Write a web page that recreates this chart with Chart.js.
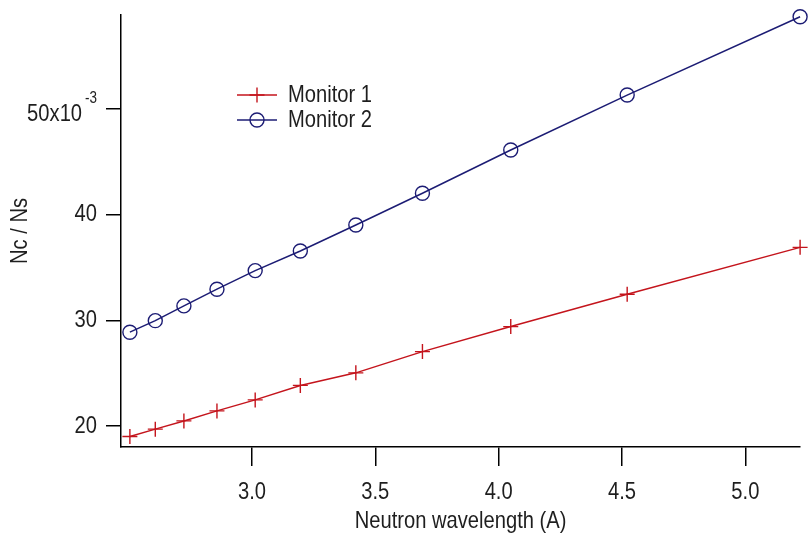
<!DOCTYPE html>
<html>
<head>
<meta charset="utf-8">
<script src="https://cdn.jsdelivr.net/npm/chart.js@4.4.1/dist/chart.umd.min.js"></script>
<style>
  html, body { margin: 0; padding: 0; background: #fff; }
  #wrap { width: 809px; height: 541px; }
</style>
</head>
<body>
<div id="wrap"><canvas id="c" width="809" height="541"></canvas></div>
<script>
// Neutron wavelength (A) for each measurement
const wavelength = [2.505, 2.608, 2.724, 2.858, 3.013, 3.196, 3.421, 3.691, 4.049, 4.521, 5.222];
// Nc / Ns ratios, in units of 10^-3
const monitor1 = [18.99, 19.69, 20.47, 21.42, 22.46, 23.83, 25.02, 27.03, 29.40, 32.46, 36.90];
const monitor2 = [28.87, 29.96, 31.36, 32.94, 34.70, 36.56, 39.02, 42.02, 46.12, 51.32, 58.73];
const seriesNames = ['Monitor 1', 'Monitor 2'];
const xTicks = [3.0, 3.5, 4.0, 4.5, 5.0];
const yTicks = [20, 30, 40, 50];
const expTick = 50;          // tick that carries the x10^-3 multiplier
const expBase = '50x10';
const expSup = '-3';

const FONT = "'Liberation Sans', Arial, sans-serif";
const FS = 24;
const NARROW = 0.84;         // horizontal squeeze giving a narrow face
const TEXT = '#1e1e1e';
const RED = '#c4141c';
const BLUE = '#1c1c74';
const Y_TICK_LEN = 15, Y_TICK_PAD = 9;

// Narrow text: every string on this canvas is drawn and measured squeezed horizontally
const canvas = document.getElementById('c');
const g = canvas.getContext('2d');
const rawFill = g.fillText.bind(g);
const rawMeasure = g.measureText.bind(g);
g.fillText = function (text, x, y, maxWidth) {
  this.save();
  this.translate(x, y);
  this.scale(NARROW, 1);
  if (maxWidth !== undefined && maxWidth !== null) rawFill(text, 0, 0, maxWidth / NARROW);
  else rawFill(text, 0, 0);
  this.restore();
};
g.measureText = function (text) {
  const m = rawMeasure(text);
  return {
    width: m.width * NARROW,
    actualBoundingBoxLeft: m.actualBoundingBoxLeft * NARROW,
    actualBoundingBoxRight: m.actualBoundingBoxRight * NARROW,
    actualBoundingBoxAscent: m.actualBoundingBoxAscent,
    actualBoundingBoxDescent: m.actualBoundingBoxDescent,
    fontBoundingBoxAscent: m.fontBoundingBoxAscent,
    fontBoundingBoxDescent: m.fontBoundingBoxDescent
  };
};

// Inset legend drawn inside the plot area
const insetLegend = {
  id: 'insetLegend',
  afterDraw(chart) {
    const ctx = chart.ctx;
    ctx.save();
    chart.data.datasets.forEach((ds, i) => {
      const y = 95 + i * 25;
      ctx.strokeStyle = ds.borderColor;
      ctx.lineWidth = ds.borderWidth;
      ctx.beginPath();
      ctx.moveTo(237, y); ctx.lineTo(277, y);
      ctx.stroke();
      const r = ds.pointRadius;
      ctx.lineWidth = ds.pointBorderWidth;
      ctx.beginPath();
      if (ds.pointStyle === 'cross') {
        ctx.moveTo(257, y - r); ctx.lineTo(257, y + r);
        ctx.moveTo(257 - r, y); ctx.lineTo(257 + r, y);
      } else {
        ctx.arc(257, y, r, 0, Math.PI * 2);
      }
      ctx.stroke();
      ctx.fillStyle = TEXT;
      ctx.font = `${FS}px ${FONT}`;
      ctx.textAlign = 'left';
      ctx.textBaseline = 'middle';
      ctx.fillText(ds.label, 288, y);
    });
    ctx.restore();
  }
};

// Tick label with a raised exponent
const exponentLabel = {
  id: 'exponentLabel',
  afterDraw(chart) {
    const sc = chart.scales.y;
    const ctx = chart.ctx;
    const py = sc.getPixelForValue(expTick);
    const right = sc.right - Y_TICK_LEN - Y_TICK_PAD;
    ctx.save();
    ctx.fillStyle = TEXT;
    ctx.font = `16px ${FONT}`;
    const wSup = ctx.measureText(expSup).width;
    ctx.textAlign = 'left';
    ctx.textBaseline = 'middle';
    ctx.fillText(expSup, right - wSup, py - 10);
    ctx.font = `${FS}px ${FONT}`;
    ctx.textAlign = 'right';
    ctx.fillText(expBase, right - wSup - 3, py + 5);
    ctx.restore();
  }
};

const axisCommon = {
  type: 'linear',
  border: { display: true, color: '#000', width: 1.5 },
  ticks: { color: TEXT, font: { family: FONT, size: FS } },
  title: { display: true, color: TEXT, font: { family: FONT, size: FS } }
};

new Chart(canvas, {
  type: 'scatter',
  data: {
    datasets: [
      {
        label: seriesNames[0],
        data: wavelength.map((x, i) => ({ x, y: monitor1[i] })),
        showLine: true,
        borderColor: RED,
        borderWidth: 1.5,
        pointStyle: 'cross',
        pointRadius: 7.5,
        pointBorderWidth: 1.4,
        pointBorderColor: RED,
        pointBackgroundColor: 'rgba(0,0,0,0)',
        clip: false
      },
      {
        label: seriesNames[1],
        data: wavelength.map((x, i) => ({ x, y: monitor2[i] })),
        showLine: true,
        borderColor: BLUE,
        borderWidth: 1.5,
        pointStyle: 'circle',
        pointRadius: 7,
        pointBorderWidth: 1.4,
        pointBorderColor: BLUE,
        pointBackgroundColor: 'rgba(0,0,0,0)',
        clip: false
      }
    ]
  },
  options: {
    responsive: false,
    animation: false,
    devicePixelRatio: 1,
    layout: { padding: { left: 0, right: 8, top: 15, bottom: 0 } },
    plugins: { legend: { display: false }, tooltip: { enabled: false } },
    scales: {
      x: {
        ...axisCommon,
        min: 2.469,
        max: 5.222,
        grid: { drawOnChartArea: false, drawTicks: true, tickLength: 19, color: '#000', lineWidth: 1.5 },
        ticks: { ...axisCommon.ticks, padding: 12, maxRotation: 0, callback: v => v.toFixed(1) },
        title: { ...axisCommon.title, text: 'Neutron wavelength (A)', padding: { top: 0, bottom: 5 } },
        afterBuildTicks: s => { s.ticks = xTicks.map(v => ({ value: v })); },
        afterFit: s => { s.height = 94; s.paddingLeft = 0; s.paddingRight = 0; }
      },
      y: {
        ...axisCommon,
        min: 18.0,
        max: 58.9,
        grid: { drawOnChartArea: false, drawTicks: true, tickLength: Y_TICK_LEN, color: '#000', lineWidth: 1.5 },
        ticks: { ...axisCommon.ticks, padding: Y_TICK_PAD, callback: v => (v === expTick ? '' : String(v)) },
        title: { ...axisCommon.title, text: 'Nc / Ns', padding: { top: 6, bottom: 0 } },
        afterBuildTicks: s => { s.ticks = yTicks.map(v => ({ value: v })); },
        afterFit: s => { s.width = 121; s.paddingTop = 0; s.paddingBottom = 0; }
      }
    }
  },
  plugins: [insetLegend, exponentLabel]
});
</script>
</body>
</html>
